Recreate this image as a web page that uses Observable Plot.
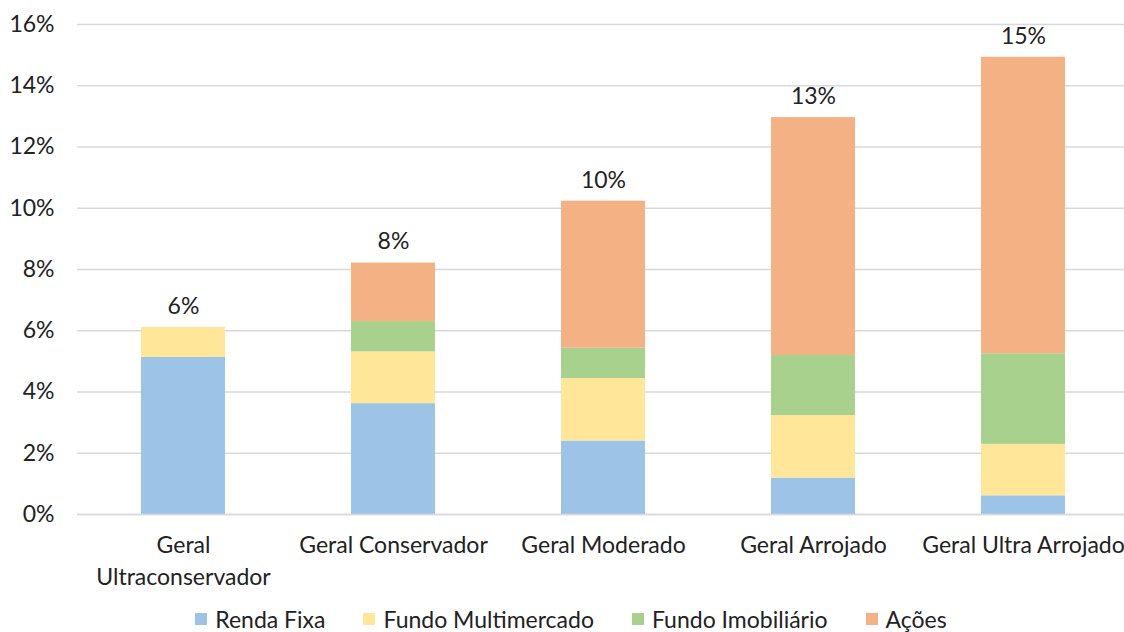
<!DOCTYPE html>
<html>
<head>
<meta charset="utf-8">
<script src="https://cdn.jsdelivr.net/npm/d3@7"></script>
<script src="https://cdn.jsdelivr.net/npm/@observablehq/plot@0.6"></script>
<style>
  html, body { margin: 0; padding: 0; background: #fff; }
  body { width: 1124px; height: 632px; overflow: hidden; font-family: Lato, "Open Sans", sans-serif; }
  #legend { display: flex; justify-content: center; align-items: center; height: 38px; font-size: 23px; color: #222; padding-left: 18px; }
  #legend .item { display: flex; align-items: center; margin: 0 19px; }
  #legend .sw { width: 12px; height: 12px; margin-right: 8px; }
</style>
</head>
<body>
<div id="chart"></div>
<div id="legend"></div>
<script>
const categories = ["Geral Ultraconservador", "Geral Conservador", "Geral Moderado", "Geral Arrojado", "Geral Ultra Arrojado"];
const series = ["Renda Fixa", "Fundo Multimercado", "Fundo Imobiliário", "Ações"];
const colors = ["#9DC3E6", "#FFE699", "#A9D18E", "#F4B183"];
const rendaFixa = [5.13, 3.62, 2.40, 1.19, 0.61];
const fundoMultimercado = [0.98, 1.69, 2.04, 2.04, 1.68];
const fundoImobiliario = [0, 0.99, 0.99, 1.96, 2.96];
const acoes = [0, 1.91, 4.80, 7.77, 9.68];
const yTicks = [0, 2, 4, 6, 8, 10, 12, 14, 16];

const seriesValues = [rendaFixa, fundoMultimercado, fundoImobiliario, acoes];
const rows = [];
categories.forEach((c, i) => {
  series.forEach((s, j) => rows.push({category: c, series: s, value: seriesValues[j][i]}));
});
const totals = categories.map((c, i) => ({
  category: c,
  total: seriesValues.reduce((a, v) => a + v[i], 0)
}));

const chart = Plot.plot({
  width: 1124,
  height: 600,
  marginLeft: 77,
  marginRight: -5,
  marginTop: 24,
  marginBottom: 86,
  style: {fontFamily: "Lato, 'Open Sans', sans-serif", fontSize: "23px", color: "#222", background: "#fff"},
  x: {domain: categories, paddingInner: 0.6, paddingOuter: 0.3, label: null},
  y: {domain: [0, 16], label: null},
  color: {domain: series, range: colors},
  marks: [
    Plot.gridY(yTicks, {stroke: "#d9d9d9", strokeOpacity: 1, strokeWidth: 1.5}),
    Plot.barY(rows, Plot.stackY({x: "category", y: "value", fill: "series", order: series})),
    Plot.ruleY([0], {stroke: "#d9d9d9", strokeWidth: 1.5}),
    Plot.text(totals, {x: "category", y: "total", text: d => Math.round(d.total) + "%", dy: -21, fontSize: 23, fill: "#222"}),
    Plot.axisY(yTicks, {tickSize: 0, tickPadding: 0, dx: -23, tickFormat: d => d + "%", fontSize: 23, fill: "#222"}),
    Plot.axisX({tickSize: 0, tickPadding: 16, lineHeight: 1.39, fontSize: 23, fill: "#222",
      tickFormat: d => d === "Geral Ultraconservador" ? "Geral\nUltraconservador" : d})
  ]
});
document.getElementById("chart").appendChild(chart);

const legend = document.getElementById("legend");
series.forEach((s, i) => {
  const item = document.createElement("div");
  item.className = "item";
  const sw = document.createElement("div");
  sw.className = "sw";
  sw.style.background = colors[i];
  const t = document.createElement("span");
  t.textContent = s;
  item.appendChild(sw);
  item.appendChild(t);
  legend.appendChild(item);
});
</script>
</body>
</html>
